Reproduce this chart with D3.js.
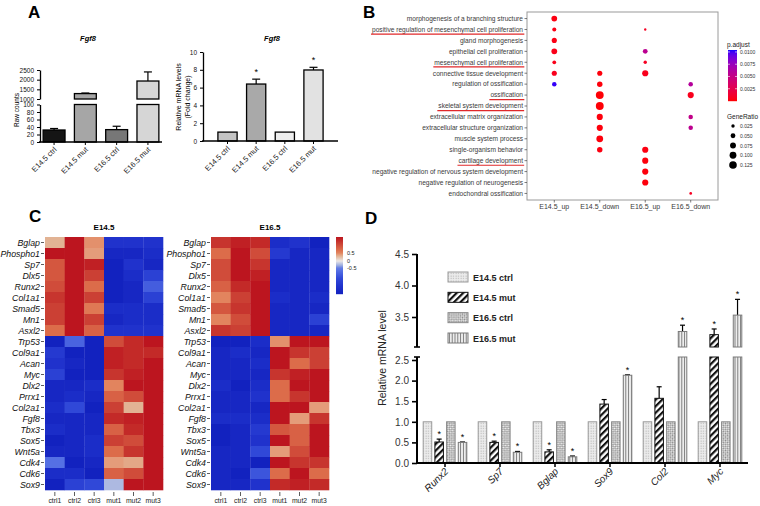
<!DOCTYPE html>
<html><head><meta charset="utf-8">
<script src="https://cdn.jsdelivr.net/npm/d3@7"></script>
<style>
body{margin:0;background:#fff}
svg{display:block}
text{font-family:"Liberation Sans",Arial,sans-serif}
</style>
</head><body>
<svg id="fig" width="760" height="506"></svg>
<script>
// ================= DATA =================
// Panel A
const aGroups = ["E14.5 ctrl", "E14.5 mut", "E16.5 ctrl", "E16.5 mut"];
const aRawCounts = [32, 1280, 33, 1930];
const aRawSem = [4, 30, 9, 470];
const aRawTicksLow = [0, 20, 40, 60, 80, 100];
const aRawTicksHigh = [1000, 1500, 2000, 2500];
const aFoldChange = [1, 6.4, 1, 7.98];
const aFoldSem = [0, 0.55, 0, 0.3];
const aFoldSig = ["", "*", "", "*"];
const aFoldTicks = [0, 2, 4, 6, 8, 10];

// Panel B
const goTerms = ["morphogenesis of a branching structure", "positive regulation of mesenchymal cell proliferation",
  "gland morphogenesis", "epithelial cell proliferation", "mesenchymal cell proliferation",
  "connective tissue development", "regulation of ossification", "ossification", "skeletal system development",
  "extracellular matrix organization", "extracellular structure organization", "muscle system process",
  "single-organism behavior", "cartilage development", "negative regulation of nervous system development",
  "negative regulation of neurogenesis", "endochondral ossification"];
const goHighlighted = ["positive regulation of mesenchymal cell proliferation", "mesenchymal cell proliferation",
  "ossification", "skeletal system development", "cartilage development"];
const goClusters = ["E14.5_up", "E14.5_down", "E16.5_up", "E16.5_down"];
const goDotTerm = [0,1,1,2,3,3,4,4,5,5,5,6,6,6,7,7,8,9,9,10,10,11,12,12,13,14,15,16];
const goDotCluster = [0,0,2,0,0,2,0,2,0,1,2,0,1,3,1,3,1,1,3,1,3,1,1,2,2,2,2,3];
const goDotRatio = [0.071,0.036,0.012,0.057,0.071,0.05,0.03,0.025,0.057,0.057,0.082,0.044,0.065,0.044,0.133,0.082,0.133,0.082,0.044,0.082,0.044,0.1,0.065,0.082,0.082,0.082,0.082,0.016];
const goDotPadj = [0.0003,0.0004,0.0008,0.0004,0.0005,0.0056,0.0005,0.0008,0.0006,0.0002,0.0006,0.0101,0.0002,0.006,0.0001,0.0006,0.0001,0.0002,0.0052,0.0002,0.0055,0.0002,0.0003,0.0003,0.0002,0.0002,0.0002,0.0008];
const goPadjTicks = [0.0025, 0.005, 0.0075, 0.01];
const goRatioTicks = [0.025, 0.05, 0.075, 0.1, 0.125];

// Panel C
const hmGenes = ["Bglap","Phospho1","Sp7","Dlx5","Runx2","Col1a1","Smad5","Mn1","Asxl2","Trp53","Col9a1","Acan",
  "Myc","Dlx2","Prrx1","Col2a1","Fgf8","Tbx3","Sox5","Wnt5a","Cdk4","Cdk6","Sox9"];
const hmSamples = ["ctrl1","ctrl2","ctrl3","mut1","mut2","mut3"];
const hmE145 = [
  [0.3,1,0.45,-0.85,-0.85,-0.85],
  [1,1,0.4,-0.95,-0.95,-0.9],
  [0.7,1,0.95,-1,-0.85,-0.95],
  [0.7,1,0.8,-1,-0.9,-0.75],
  [0.75,1,0.6,-1,-0.95,-0.62],
  [0.85,1,0.8,-1,-0.95,-0.75],
  [0.8,1,0.55,-0.9,-0.9,-0.9],
  [0.8,1,0.8,-0.95,-0.9,-0.9],
  [0.6,1,0.65,-0.85,-0.85,-0.85],
  [-1,-0.6,-1,0.75,0.9,1],
  [-0.8,-1,-1,0.95,0.9,0.9],
  [-0.85,-0.95,-1,0.95,0.9,1],
  [-0.75,-1,-1,0.85,0.95,1],
  [-0.95,-0.95,-0.9,0.5,1,1],
  [-0.95,-0.9,-0.95,0.65,0.75,1],
  [-0.9,-0.7,-1,0.8,0.3,1],
  [-0.95,-0.95,-0.95,0.9,0.95,1],
  [-0.9,-0.95,-0.95,0.65,0.9,1],
  [-1,-0.95,-0.9,0.8,0.75,1],
  [-0.95,-0.95,-0.9,0.6,0.85,1],
  [-0.55,-1,-0.95,0.4,0.35,1],
  [-0.9,-0.9,-1,0.65,0.75,1],
  [-1,-0.75,-0.7,-0.25,1,1]];
const hmE165 = [
  [0.85,0.95,0.9,-0.9,-0.85,-1],
  [0.6,1,0.75,-0.8,-0.95,-0.95],
  [0.75,1,0.85,-0.95,-0.95,-0.95],
  [0.75,1,0.95,-0.95,-0.95,-0.95],
  [0.65,0.9,1,-0.95,-0.95,-0.95],
  [0.5,0.8,1,-0.9,-0.95,-0.9],
  [0.7,0.85,1,-0.95,-0.95,-0.95],
  [0.5,0.75,1,-0.95,-0.95,-0.75],
  [0.85,0.8,1,-0.95,-0.95,-0.95],
  [-1,-1,-0.9,0.45,1,1],
  [-0.95,-0.9,-0.95,1,0.85,0.8],
  [-0.95,-0.95,-0.9,1,0.6,0.8],
  [-0.95,-0.95,-0.95,0.85,0.95,1],
  [-0.9,-1,-0.9,0.6,1,1],
  [-0.95,-0.95,-0.85,0.6,0.85,1],
  [-0.95,-0.95,-0.95,1,1,0.4],
  [-0.9,-0.9,-0.9,1,0.4,0.85],
  [-1,-0.95,-0.8,0.7,0.65,1],
  [-1,-0.95,-0.85,1,0.65,1],
  [-0.95,-0.95,-0.7,0.4,0.75,1],
  [-0.95,-0.95,-1,1,0.85,0.85],
  [-0.95,-1,-0.65,0.6,1,0.6],
  [-0.95,-0.95,-0.85,0.9,0.95,0.9]];
const hmLegendTicks = [0.5, 0, -0.5];

// Panel D
const dGenes = ["Runx2","Sp7","Bglap","Sox9","Col2","Myc"];
const dSeries = ["E14.5 ctrl","E14.5 mut","E16.5 ctrl","E16.5 mut"];
const dE145ctrl = [1,1,1,1,1,1];
const dE145mut = [0.51,0.5,0.27,1.43,1.57,3.22];
const dE145mutErr = [0.07,0.03,0.05,0.11,0.28,0.09];
const dE165ctrl = [1,1,1,1,1,1];
const dE165mut = [0.5,0.26,0.15,2.13,3.27,3.53];
const dE165mutErr = [0.01,0.02,0.02,0.01,0.1,0.25];
const dE145mutSig = ["*","*","*","","","*"];
const dE165mutSig = ["*","*","*","*","*","*"];
const dTicksLow = [0,0.5,1,1.5,2,2.5];
const dTicksHigh = [3.5,4,4.5];

// ================= DRAW =================
const svg = d3.select("#fig");
svg.append("rect").attr("width",760).attr("height",506).attr("fill","#fff");

[["A",28,18],["B",363,18],["C",29,222],["D",365,224]].forEach(([t,x,y])=>{
  svg.append("text").attr("x",x).attr("y",y).attr("font-size",17).attr("font-weight","bold").text(t);
});

function styleAxis(g, fs, sw){
  g.selectAll("path.domain").attr("stroke","#000").attr("stroke-width",sw);
  g.selectAll(".tick line").attr("stroke","#000").attr("stroke-width",sw*0.8);
  g.selectAll(".tick text").attr("font-size",fs).attr("fill","#111").attr("font-family","Liberation Sans, Arial");
}
function rotLabel(g, x, y, txt, fs, italic){
  g.append("text").attr("transform",`translate(${x},${y}) rotate(-45)`)
    .attr("text-anchor","end").attr("font-size",fs).attr("fill","#222")
    .attr("font-style",italic?"italic":"normal").text(txt);
}

// ---------- Panel A left: raw counts ----------
{
  const g = svg.append("g");
  const colors = ["#151515","#a6a6a6","#777","#d6d6d6"];
  const x = d3.scaleBand().domain(aGroups).range([40,162]).paddingInner(0.3).paddingOuter(0.1);
  const yLow = d3.scaleLinear().domain([0,100]).range([142,104.5]);
  const yHigh = d3.scaleLinear().domain([1000,2500]).range([99,70]);
  const yOf = v => v <= 100 ? yLow(v) : yHigh(v);
  aGroups.forEach((k,i)=>{
    const v = aRawCounts[i], bx = x(k), w = x.bandwidth();
    const top = v + aRawSem[i];
    g.append("line").attr("x1",bx+w/2).attr("x2",bx+w/2).attr("y1",yOf(v)).attr("y2",yOf(top)).attr("stroke","#000").attr("stroke-width",1.2);
    g.append("line").attr("x1",bx+w/2-4).attr("x2",bx+w/2+4).attr("y1",yOf(top)).attr("y2",yOf(top)).attr("stroke","#000").attr("stroke-width",1.2);
    if (v <= 100){
      g.append("rect").attr("x",bx).attr("y",yLow(v)).attr("width",w).attr("height",yLow(0)-yLow(v))
        .attr("fill",colors[i]).attr("stroke","#000").attr("stroke-width",1.3);
    } else {
      g.append("rect").attr("x",bx).attr("y",yLow(100)).attr("width",w).attr("height",yLow(0)-yLow(100))
        .attr("fill",colors[i]).attr("stroke","#000").attr("stroke-width",1.3);
      g.append("rect").attr("x",bx).attr("y",yHigh(v)).attr("width",w).attr("height",yHigh(1000)-yHigh(v))
        .attr("fill",colors[i]).attr("stroke","#000").attr("stroke-width",1.3);
    }
  });
  const ax1 = g.append("g").attr("transform","translate(40,0)")
    .call(d3.axisLeft(yLow).tickValues(aRawTicksLow).tickFormat(d3.format("d")).tickSize(3).tickSizeOuter(0));
  styleAxis(ax1,6.5,1.3);
  const ax2 = g.append("g").attr("transform","translate(40,0)")
    .call(d3.axisLeft(yHigh).tickValues(aRawTicksHigh).tickFormat(d3.format("d")).tickSize(3).tickSizeOuter(0));
  styleAxis(ax2,6.5,1.3);
  g.append("line").attr("x1",39).attr("x2",162).attr("y1",142).attr("y2",142).attr("stroke","#000").attr("stroke-width",1.4);
  aGroups.forEach(k=>{
    const cx = x(k)+x.bandwidth()/2;
    g.append("line").attr("x1",cx).attr("x2",cx).attr("y1",142).attr("y2",145).attr("stroke","#000");
    rotLabel(g, cx+3, 150, k, 7.5);
  });
  g.append("text").attr("x",88).attr("y",41).attr("text-anchor","middle").attr("font-size",7.5)
    .attr("font-weight","bold").attr("font-style","italic").text("Fgf8");
  g.append("text").attr("transform","translate(19,110) rotate(-90)").attr("text-anchor","middle")
    .attr("font-size",6.5).text("Raw counts");
}

// ---------- Panel A right: fold change ----------
{
  const g = svg.append("g");
  const colors = ["#c4c4c4","#a9a9a9","#eeeeee","#e2e2e2"];
  const x = d3.scaleBand().domain(aGroups).range([203,338]).paddingInner(0.33).paddingOuter(0.52);
  const y = d3.scaleLinear().domain([0,10]).range([141,52]);
  aGroups.forEach((k,i)=>{
    const v = aFoldChange[i], bx = x(k), w = x.bandwidth();
    if (aFoldSem[i] > 0){
      const t = v + aFoldSem[i];
      g.append("line").attr("x1",bx+w/2).attr("x2",bx+w/2).attr("y1",y(v)).attr("y2",y(t)).attr("stroke","#000").attr("stroke-width",1.2);
      g.append("line").attr("x1",bx+w/2-4).attr("x2",bx+w/2+4).attr("y1",y(t)).attr("y2",y(t)).attr("stroke","#000").attr("stroke-width",1.2);
    }
    g.append("rect").attr("x",bx).attr("y",y(v)).attr("width",w).attr("height",y(0)-y(v))
      .attr("fill",colors[i]).attr("stroke","#000").attr("stroke-width",1.3);
    if (aFoldSig[i]) g.append("text").attr("x",bx+w/2).attr("y",y(v+aFoldSem[i])-4).attr("text-anchor","middle")
      .attr("font-size",9).text(aFoldSig[i]);
  });
  const ax = g.append("g").attr("transform","translate(203,0)")
    .call(d3.axisLeft(y).tickValues(aFoldTicks).tickSize(3).tickSizeOuter(0));
  styleAxis(ax,6.5,1.3);
  g.append("line").attr("x1",202).attr("x2",338).attr("y1",141).attr("y2",141).attr("stroke","#000").attr("stroke-width",1.4);
  aGroups.forEach(k=>{
    const cx = x(k)+x.bandwidth()/2;
    g.append("line").attr("x1",cx).attr("x2",cx).attr("y1",141).attr("y2",144).attr("stroke","#000");
    rotLabel(g, cx+3, 149, k, 7.5);
  });
  g.append("text").attr("x",272).attr("y",41).attr("text-anchor","middle").attr("font-size",7.5)
    .attr("font-weight","bold").attr("font-style","italic").text("Fgf8");
  g.append("text").attr("transform","translate(181,97) rotate(-90)").attr("text-anchor","middle")
    .attr("font-size",7).text("Relative mRNA levels");
  g.append("text").attr("transform","translate(190,97) rotate(-90)").attr("text-anchor","middle")
    .attr("font-size",7).text("(Fold change)");
}

// ---------- Panel B: GO dot plot ----------
{
  const g = svg.append("g");
  const x = d3.scalePoint().domain(goClusters).range([527,718]).padding(0.6);
  const y = d3.scalePoint().domain(goTerms).range([12,200]).padding(0.6);
  const r = d3.scaleSqrt().domain([0,0.125]).range([0,3.8]);
  const col = d3.scaleLinear().domain([0,0.0104]).range(["#ff0000","#0000ff"]).interpolate(d3.interpolateLab);
  g.append("rect").attr("x",527).attr("y",12).attr("width",191).attr("height",188)
    .attr("fill","#fff").attr("stroke","#9a9a9a").attr("stroke-width",1);
  goTerms.forEach(t=>{
    const yy = y(t);
    g.append("line").attr("x1",524.5).attr("x2",527).attr("y1",yy).attr("y2",yy).attr("stroke","#444").attr("stroke-width",0.7);
    const tx = g.append("text").attr("x",523).attr("y",yy+2.3).attr("text-anchor","end")
      .attr("font-size",6.6).attr("fill","#3a3a3a").text(t);
    if (goHighlighted.includes(t)){
      const bb = tx.node().getBBox();
      g.append("line").attr("x1",bb.x-1).attr("x2",bb.x+bb.width+1).attr("y1",yy+4.6).attr("y2",yy+4.6)
        .attr("stroke","#e0282a").attr("stroke-width",1.2);
    }
  });
  goClusters.forEach(c=>{
    const xx = x(c);
    g.append("line").attr("x1",xx).attr("x2",xx).attr("y1",200).attr("y2",202.5).attr("stroke","#444").attr("stroke-width",0.7);
    g.append("text").attr("x",xx).attr("y",209).attr("text-anchor","middle").attr("font-size",7)
      .attr("fill","#3a3a3a").text(c);
  });
  goDotTerm.forEach((ti,i)=>{
    g.append("circle").attr("cx",x(goClusters[goDotCluster[i]])).attr("cy",y(goTerms[ti]))
      .attr("r",r(goDotRatio[i])).attr("fill",col(goDotPadj[i]));
  });
  g.append("text").attr("x",727).attr("y",47).attr("font-size",6.5).attr("fill","#222").text("p.adjust");
  const cy = d3.scaleLinear().domain([0,0.0104]).range([101,50]);
  for (let yy=50; yy<101; yy+=1){
    g.append("rect").attr("x",728).attr("y",yy).attr("width",9).attr("height",1.2).attr("fill",col(cy.invert(yy+0.5)));
  }
  goPadjTicks.forEach(v=>{
    g.append("line").attr("x1",728).attr("x2",730).attr("y1",cy(v)).attr("y2",cy(v)).attr("stroke","#fff").attr("stroke-width",0.6);
    g.append("line").attr("x1",735).attr("x2",737).attr("y1",cy(v)).attr("y2",cy(v)).attr("stroke","#fff").attr("stroke-width",0.6);
    g.append("text").attr("x",740).attr("y",cy(v)+2).attr("font-size",5).attr("fill","#333").text(d3.format(".4f")(v));
  });
  g.append("text").attr("x",727).attr("y",119).attr("font-size",6.5).attr("fill","#222").text("GeneRatio");
  const ly = d3.scalePoint().domain(goRatioTicks).range([126,165]);
  goRatioTicks.forEach(v=>{
    g.append("circle").attr("cx",733).attr("cy",ly(v)).attr("r",r(v)).attr("fill","#000");
    g.append("text").attr("x",740).attr("y",ly(v)+2).attr("font-size",5).attr("fill","#333").text(d3.format(".3f")(v));
  });
}

// ---------- Panel C: heatmaps ----------
const hmColor = d3.scaleLinear()
  .domain([-1,-0.85,-0.7,-0.55,-0.3,0,0.3,0.4,0.5,0.6,0.7,0.8,0.9,1])
  .range(["#1222bf","#2032cc","#3048d8","#5570e4","#a0b0e0","#ebe6e6","#e2b394","#e49c7a","#e2845e","#dc6c4a","#d4573f","#cb4034","#c32a28","#bc151f"])
  .clamp(true);
function heatmap(mat, x0, x1, labelRight, title){
  const g = svg.append("g");
  const x = d3.scaleBand().domain(hmSamples).range([x0,x1]);
  const y = d3.scaleBand().domain(hmGenes).range([237,490]);
  hmGenes.forEach((gn,ri)=>{
    hmSamples.forEach((s,ci)=>{
      g.append("rect").attr("x",x(s)).attr("y",y(gn)).attr("width",x.bandwidth()+0.3).attr("height",y.bandwidth()+0.3)
        .attr("fill",hmColor(mat[ri][ci]));
    });
    const yy = y(gn)+y.bandwidth()/2;
    g.append("line").attr("x1",labelRight+1).attr("x2",labelRight+4).attr("y1",yy).attr("y2",yy).attr("stroke","#333").attr("stroke-width",0.8);
    g.append("text").attr("x",labelRight).attr("y",yy+3).attr("text-anchor","end")
      .attr("font-family","Liberation Serif, Times New Roman, serif").attr("font-style","italic")
      .attr("font-size",8.8).attr("fill","#111").text(gn);
  });
  hmSamples.forEach(s=>{
    const cx = x(s)+x.bandwidth()/2;
    g.append("line").attr("x1",cx).attr("x2",cx).attr("y1",492).attr("y2",496).attr("stroke","#333").attr("stroke-width",0.8);
    g.append("text").attr("x",cx).attr("y",503).attr("text-anchor","middle").attr("font-size",6.8).attr("fill","#222").text(s);
  });
  g.append("text").attr("x",(x0+x1)/2).attr("y",230).attr("text-anchor","middle").attr("font-size",8)
    .attr("font-weight","bold").text(title);
}
heatmap(hmE145, 45, 163, 40, "E14.5");
heatmap(hmE165, 211, 329, 206, "E16.5");
{
  const g = svg.append("g");
  const cb = d3.scaleLinear().domain([1,0.5,0,-0.5,-1]).range([237,253,261,268,294]);
  for (let yy=237; yy<294; yy+=1){
    g.append("rect").attr("x",336).attr("y",yy).attr("width",7).attr("height",1.2).attr("fill",hmColor(cb.invert(yy+0.5)));
  }
  hmLegendTicks.forEach(v=>{
    g.append("text").attr("x",347).attr("y",cb(v)+2).attr("font-size",5.5).attr("fill","#222").text(v===0?"0":v);
  });
}

// ---------- Panel D: qPCR bars ----------
{
  const g = svg.append("g");
  const defs = svg.append("defs");
  const pd = defs.append("pattern").attr("id","pDots").attr("patternUnits","userSpaceOnUse").attr("width",2.5).attr("height",2.5);
  pd.append("rect").attr("width",2.5).attr("height",2.5).attr("fill","#ececec");
  pd.append("rect").attr("x",0.6).attr("y",0.6).attr("width",0.9).attr("height",0.9).attr("fill","#9a9a9a");
  const ph = defs.append("pattern").attr("id","pDiag").attr("patternUnits","userSpaceOnUse").attr("width",4.6).attr("height",4.6)
    .attr("patternTransform","rotate(45)");
  ph.append("rect").attr("width",4.6).attr("height",4.6).attr("fill","#fff");
  ph.append("rect").attr("width",2.2).attr("height",4.6).attr("fill","#111");
  const pc = defs.append("pattern").attr("id","pCross").attr("patternUnits","userSpaceOnUse").attr("width",3).attr("height",3)
    .attr("patternTransform","rotate(45)");
  pc.append("rect").attr("width",3).attr("height",3).attr("fill","#f4f4f4");
  pc.append("rect").attr("width",1.5).attr("height",1.5).attr("fill","#8a8a8a");
  pc.append("rect").attr("x",1.5).attr("y",1.5).attr("width",1.5).attr("height",1.5).attr("fill","#8a8a8a");
  const pv = defs.append("pattern").attr("id","pVert").attr("patternUnits","userSpaceOnUse").attr("width",2.8).attr("height",3);
  pv.append("rect").attr("width",2.8).attr("height",3).attr("fill","#f2f2f2");
  pv.append("rect").attr("x",0.9).attr("width",1).attr("height",3).attr("fill","#7a7a7a");

  const fills = ["url(#pDots)","url(#pDiag)","url(#pCross)","url(#pVert)"];
  const strokes = ["#9a9a9a","#111","#8a8a8a","#7a7a7a"];
  const values = [dE145ctrl, dE145mut, dE165ctrl, dE165mut];
  const errs = [null, dE145mutErr, null, dE165mutErr];
  const sigs = [null, dE145mutSig, null, dE165mutSig];

  const x0 = d3.scaleBand().domain(dGenes).range([417.5,747.5]);
  const x1 = d3.scaleBand().domain(dSeries).range([-21.8,21.8]).paddingInner(0.27);
  const yLow = d3.scaleLinear().domain([0,2.5]).range([463,360]);
  const yHigh = d3.scaleLinear().domain([3.5,4.5]).range([317,254]);
  const lowTop = 357, highBot = 347;
  const lowMax = yLow.invert(lowTop);
  const yOf = v => v <= lowMax ? yLow(v) : yHigh(v);

  dGenes.forEach((gn,gi)=>{
    const gc = x0(gn) + x0.bandwidth()/2;
    dSeries.forEach((s,si)=>{
      const v = values[si][gi];
      const bx = gc + x1(s), w = x1.bandwidth();
      if (errs[si]){
        const t = v + errs[si][gi];
        g.append("line").attr("x1",bx+w/2).attr("x2",bx+w/2).attr("y1",yOf(v)).attr("y2",yOf(t)).attr("stroke","#000").attr("stroke-width",1.2);
        g.append("line").attr("x1",bx+w/2-2.5).attr("x2",bx+w/2+2.5).attr("y1",yOf(t)).attr("y2",yOf(t)).attr("stroke","#000").attr("stroke-width",1.2);
        if (sigs[si][gi]) g.append("text").attr("x",bx+w/2).attr("y",yOf(t)-2).attr("text-anchor","middle")
          .attr("font-size",9).text(sigs[si][gi]);
      }
      if (v <= lowMax){
        g.append("rect").attr("x",bx).attr("y",yLow(v)).attr("width",w).attr("height",yLow(0)-yLow(v))
          .attr("fill",fills[si]).attr("stroke",strokes[si]).attr("stroke-width",1);
      } else {
        g.append("rect").attr("x",bx).attr("y",lowTop).attr("width",w).attr("height",yLow(0)-lowTop)
          .attr("fill",fills[si]).attr("stroke",strokes[si]).attr("stroke-width",1);
        g.append("rect").attr("x",bx).attr("y",yHigh(v)).attr("width",w).attr("height",highBot-yHigh(v))
          .attr("fill",fills[si]).attr("stroke",strokes[si]).attr("stroke-width",1);
      }
    });
  });
  const axL = g.append("g").attr("transform","translate(417,0)")
    .call(d3.axisLeft(yLow).tickValues(dTicksLow).tickFormat(d3.format(".1f")).tickSize(5).tickSizeOuter(0));
  axL.select("path.domain").attr("d",`M0,${lowTop}V463`);
  styleAxis(axL,10,2);
  axL.selectAll(".tick text").attr("fill","#333");
  const axH = g.append("g").attr("transform","translate(417,0)")
    .call(d3.axisLeft(yHigh).tickValues(dTicksHigh).tickFormat(d3.format(".1f")).tickSize(5).tickSizeOuter(0));
  axH.select("path.domain").attr("d",`M0,254V${highBot}`);
  styleAxis(axH,10,2);
  axH.selectAll(".tick text").attr("fill","#333");
  [lowTop, highBot].forEach(yy=>g.append("line").attr("x1",414).attr("x2",420).attr("y1",yy).attr("y2",yy).attr("stroke","#000").attr("stroke-width",1.6));
  g.append("line").attr("x1",416).attr("x2",748).attr("y1",463).attr("y2",463).attr("stroke","#000").attr("stroke-width",2);
  dGenes.forEach(gn=>{
    const gc = x0(gn)+x0.bandwidth()/2;
    g.append("line").attr("x1",gc).attr("x2",gc).attr("y1",463).attr("y2",467).attr("stroke","#000").attr("stroke-width",1.5);
    rotLabel(g, gc+4, 472, gn, 10, true);
  });
  g.append("text").attr("transform","translate(386,358) rotate(-90)").attr("text-anchor","middle")
    .attr("font-size",10.5).attr("fill","#222").text("Relative mRNA level");
  const ly = d3.scalePoint().domain(dSeries).range([272,333]);
  dSeries.forEach((s,si)=>{
    g.append("rect").attr("x",448).attr("y",ly(s)).attr("width",20).attr("height",10)
      .attr("fill",fills[si]).attr("stroke",strokes[si]).attr("stroke-width",1);
    g.append("text").attr("x",473).attr("y",ly(s)+8.5).attr("font-size",9).attr("font-weight","bold").attr("fill","#222").text(s);
  });
}
</script>
</body></html>
